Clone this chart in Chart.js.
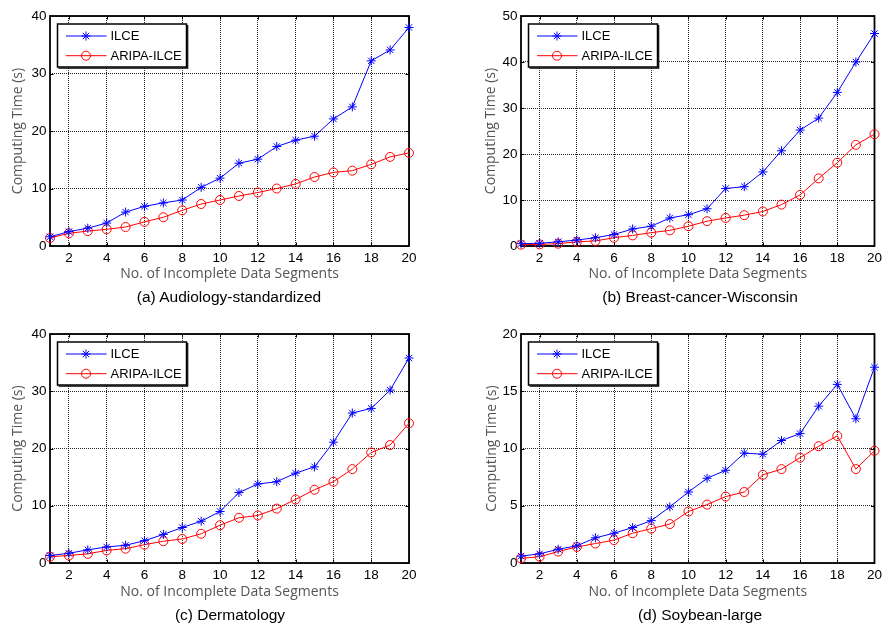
<!DOCTYPE html>
<html><head><meta charset="utf-8">
<script src="https://cdn.jsdelivr.net/npm/chart.js@4/dist/chart.umd.min.js"></script>
<style>
html,body{margin:0;padding:0;background:#fff;}
body{width:886px;height:625px;position:relative;overflow:hidden;}
canvas{position:absolute;display:block;}
.cap{position:absolute;font-family:"Liberation Sans",Arial,sans-serif;font-size:15.5px;color:#000;white-space:nowrap;transform:translate(-50%,-50%);line-height:1;}
</style></head><body>
<canvas id="c0" width="443" height="310" style="left:0;top:0"></canvas>
<canvas id="c1" width="443" height="310" style="left:443px;top:0"></canvas>
<canvas id="c2" width="443" height="315" style="left:0;top:310px"></canvas>
<canvas id="c3" width="443" height="315" style="left:443px;top:310px"></canvas>
<div class="cap" id="cap0" style="left:229px;top:297px"></div>
<div class="cap" id="cap1" style="left:700px;top:297px"></div>
<div class="cap" id="cap2" style="left:230px;top:615px"></div>
<div class="cap" id="cap3" style="left:700px;top:615px"></div>
<script>
// ---------------- data ----------------
const seriesNames = ['ILCE', 'ARIPA-ILCE'];
const xValues = [1,2,3,4,5,6,7,8,9,10,11,12,13,14,15,16,17,18,19,20];
const xTicks = [2,4,6,8,10,12,14,16,18,20];
const xTitle = 'No. of Incomplete Data Segments';
const yTitle = 'Computing Time (s)';
const captions = ['(a) Audiology-standardized', '(b) Breast-cancer-Wisconsin', '(c) Dermatology', '(d) Soybean-large'];

const yTicksA = [0,10,20,30,40];
const yTicksB = [0,10,20,30,40,50];
const yTicksC = [0,10,20,30,40];
const yTicksD = [0,5,10,15,20];

const ilceA  = [1.6,2.5,3.1,4.0,5.9,6.9,7.5,8.0,10.2,11.8,14.4,15.1,17.3,18.4,19.1,22.1,24.2,32.2,34.1,38.0];
const aripaA = [1.4,2.2,2.6,2.9,3.3,4.2,5.0,6.2,7.3,8.0,8.7,9.3,10.0,10.8,12.0,12.8,13.1,14.2,15.5,16.2];

const ilceB  = [0.5,0.6,0.9,1.3,1.8,2.5,3.7,4.3,6.1,6.8,8.1,12.5,12.9,16.1,20.7,25.2,27.8,33.4,40.0,46.2];
const aripaB = [0.3,0.35,0.5,0.9,1.1,1.8,2.3,2.9,3.4,4.3,5.4,6.1,6.7,7.5,9.0,11.1,14.7,18.1,22.0,24.3];

const ilceC  = [1.3,1.7,2.3,2.8,3.1,3.9,5.0,6.2,7.3,9.0,12.3,13.8,14.2,15.7,16.8,21.1,26.2,27.0,30.2,35.8];
const aripaC = [1.1,1.3,1.6,2.2,2.5,3.2,3.8,4.2,5.1,6.6,7.9,8.3,9.5,11.1,12.8,14.2,16.4,19.3,20.6,24.4];

const ilceD  = [0.6,0.8,1.2,1.5,2.2,2.6,3.1,3.7,4.9,6.2,7.4,8.1,9.6,9.5,10.7,11.3,13.7,15.6,12.6,17.1];
const aripaD = [0.4,0.55,1.0,1.4,1.7,2.0,2.6,3.0,3.4,4.5,5.1,5.8,6.2,7.7,8.2,9.2,10.2,11.1,8.2,9.8];

// ---------------- layout (not data) ----------------
const panels = [
  {id:'c0', W:443, H:310, L:50, T:16, R:409, B:246, yTicks:yTicksA, s1:ilceA, s2:aripaA, yTitleX:18, xTitleOff:36},
  {id:'c1', W:443, H:310, L:78, T:16, R:437, B:246, yTicks:yTicksB, s1:ilceB, s2:aripaB, yTitleX:48, xTitleOff:36},
  {id:'c2', W:443, H:315, L:50, T:24, R:409, B:253, yTicks:yTicksC, s1:ilceC, s2:aripaC, yTitleX:18.5, xTitleOff:33},
  {id:'c3', W:443, H:315, L:78, T:24, R:437, B:253, yTicks:yTicksD, s1:ilceD, s2:aripaD, yTitleX:49, xTitleOff:33}
];

const tickFont = {family:'"Liberation Sans", Arial, sans-serif', size:13.5};
const titleFont = {family:'"Open Sans", "Noto Sans", sans-serif', size:14, lineHeight:1.2};
const titleColor = '#555555';
const gridColor = 'rgba(0,0,0,0.85)';

function drawStar(ctx, x, y, r){
  ctx.beginPath();
  ctx.moveTo(x - r, y); ctx.lineTo(x + r, y);
  ctx.moveTo(x, y - r); ctx.lineTo(x, y + r);
  const d = r * Math.SQRT1_2;
  ctx.moveTo(x - d, y - d); ctx.lineTo(x + d, y + d);
  ctx.moveTo(x - d, y + d); ctx.lineTo(x + d, y - d);
  ctx.stroke();
}

const framePlugin = {
  id: 'frame',
  beforeDatasetsDraw(chart){
    const {ctx, chartArea:a, scales} = chart;
    ctx.save();
    ctx.strokeStyle = '#000';
    ctx.lineWidth = 1;
    const tl = 3.5;
    scales.x.ticks.forEach(t => {
      const px = Math.round(scales.x.getPixelForValue(t.value)) + 0.5;
      ctx.beginPath();
      ctx.moveTo(px, a.bottom); ctx.lineTo(px, a.bottom - tl);
      ctx.moveTo(px, a.top); ctx.lineTo(px, a.top + tl);
      ctx.stroke();
    });
    scales.y.ticks.forEach(t => {
      const py = Math.round(scales.y.getPixelForValue(t.value)) + 0.5;
      ctx.beginPath();
      ctx.moveTo(a.left, py); ctx.lineTo(a.left + tl, py);
      ctx.moveTo(a.right, py); ctx.lineTo(a.right - tl, py);
      ctx.stroke();
    });
    ctx.lineWidth = 1.8;
    ctx.strokeRect(a.left, a.top, a.right - a.left, a.bottom - a.top);
    ctx.restore();
  },
  afterDatasetsDraw(chart){
    const {ctx, chartArea:a} = chart;
    const bx = a.left + 7.5, by = a.top + 8, bw = 129, bh = 43;
    ctx.save();
    ctx.fillStyle = '#fff';
    ctx.fillRect(bx, by, bw, bh);
    ctx.strokeStyle = '#000';
    ctx.lineWidth = 1.5;
    ctx.strokeRect(bx, by, bw, bh);
    ctx.lineWidth = 1.2;
    ctx.beginPath();
    ctx.moveTo(bx + 1, by + bh + 1.2); ctx.lineTo(bx + bw + 1.2, by + bh + 1.2); ctx.lineTo(bx + bw + 1.2, by + 1);
    ctx.stroke();
    ctx.font = '13px "Liberation Sans", Arial, sans-serif';
    ctx.textBaseline = 'middle';
    ctx.textAlign = 'left';
    chart.data.datasets.forEach((ds, i) => {
      const y = by + 12 + i * 19.7;
      ctx.strokeStyle = ds.borderColor;
      ctx.lineWidth = 1;
      ctx.beginPath();
      ctx.moveTo(bx + 8.5, y); ctx.lineTo(bx + 49, y);
      ctx.stroke();
      const mx = bx + 28.5;
      if (ds.pointStyle === 'star') {
        drawStar(ctx, mx, y, ds.pointRadius);
      } else {
        ctx.beginPath();
        ctx.arc(mx, y, ds.pointRadius, 0, Math.PI * 2);
        ctx.stroke();
      }
      ctx.fillStyle = '#000';
      ctx.fillText(ds.label, bx + 53, y + 0.5);
    });
    ctx.restore();
  }
};

panels.forEach((p, idx) => {
  document.getElementById('cap' + idx).textContent = captions[idx];
  const ctx = document.getElementById(p.id).getContext('2d');
  new Chart(ctx, {
    type: 'line',
    data: {
      datasets: [
        {label: seriesNames[0], data: xValues.map((x, i) => ({x, y: p.s1[i]})),
         borderColor: '#0000ff', backgroundColor: '#0000ff', borderWidth: 1,
         pointStyle: 'star', pointRadius: 4.5, pointBorderWidth: 1, pointBorderColor: '#0000ff',
         tension: 0, clip: false, fill: false},
        {label: seriesNames[1], data: xValues.map((x, i) => ({x, y: p.s2[i]})),
         borderColor: '#ff0000', backgroundColor: 'rgba(0,0,0,0)', borderWidth: 1,
         pointStyle: 'circle', pointRadius: 4.5, pointBorderWidth: 1, pointBorderColor: '#ff0000',
         pointBackgroundColor: 'rgba(0,0,0,0)', tension: 0, clip: false, fill: false}
      ]
    },
    options: {
      responsive: false,
      animation: false,
      events: [],
      devicePixelRatio: 1,
      layout: {padding: {left: 0, top: p.T, right: p.W - p.R, bottom: 0}},
      plugins: {legend: {display: false}, tooltip: {enabled: false}, title: {display: false}},
      scales: {
        x: {
          type: 'linear', min: 1, max: 20,
          afterBuildTicks: s => { s.ticks = xTicks.map(v => ({value: v})); },
          afterFit: s => { s.height = p.H - p.B; },
          grid: {color: gridColor, lineWidth: 1, drawTicks: false},
          border: {display: false, dash: [1, 1]},
          ticks: {color: '#000', font: tickFont, padding: 4, maxRotation: 0, autoSkip: false},
          title: {display: true, text: xTitle, color: titleColor, font: titleFont,
                  padding: {top: 0, bottom: p.xTitleOff - 8.4}}
        },
        y: {
          type: 'linear', min: p.yTicks[0], max: p.yTicks[p.yTicks.length - 1],
          afterBuildTicks: s => { s.ticks = p.yTicks.map(v => ({value: v})); },
          afterFit: s => { s.width = p.L; },
          grid: {color: gridColor, lineWidth: 1, drawTicks: false},
          border: {display: false, dash: [1, 1]},
          ticks: {color: '#000', font: tickFont, padding: 3.5},
          title: {display: true, text: yTitle, color: titleColor, font: titleFont,
                  padding: {top: p.yTitleX - 8.4, bottom: 0}}
        }
      }
    },
    plugins: [framePlugin]
  });
});
</script>
</body></html>
